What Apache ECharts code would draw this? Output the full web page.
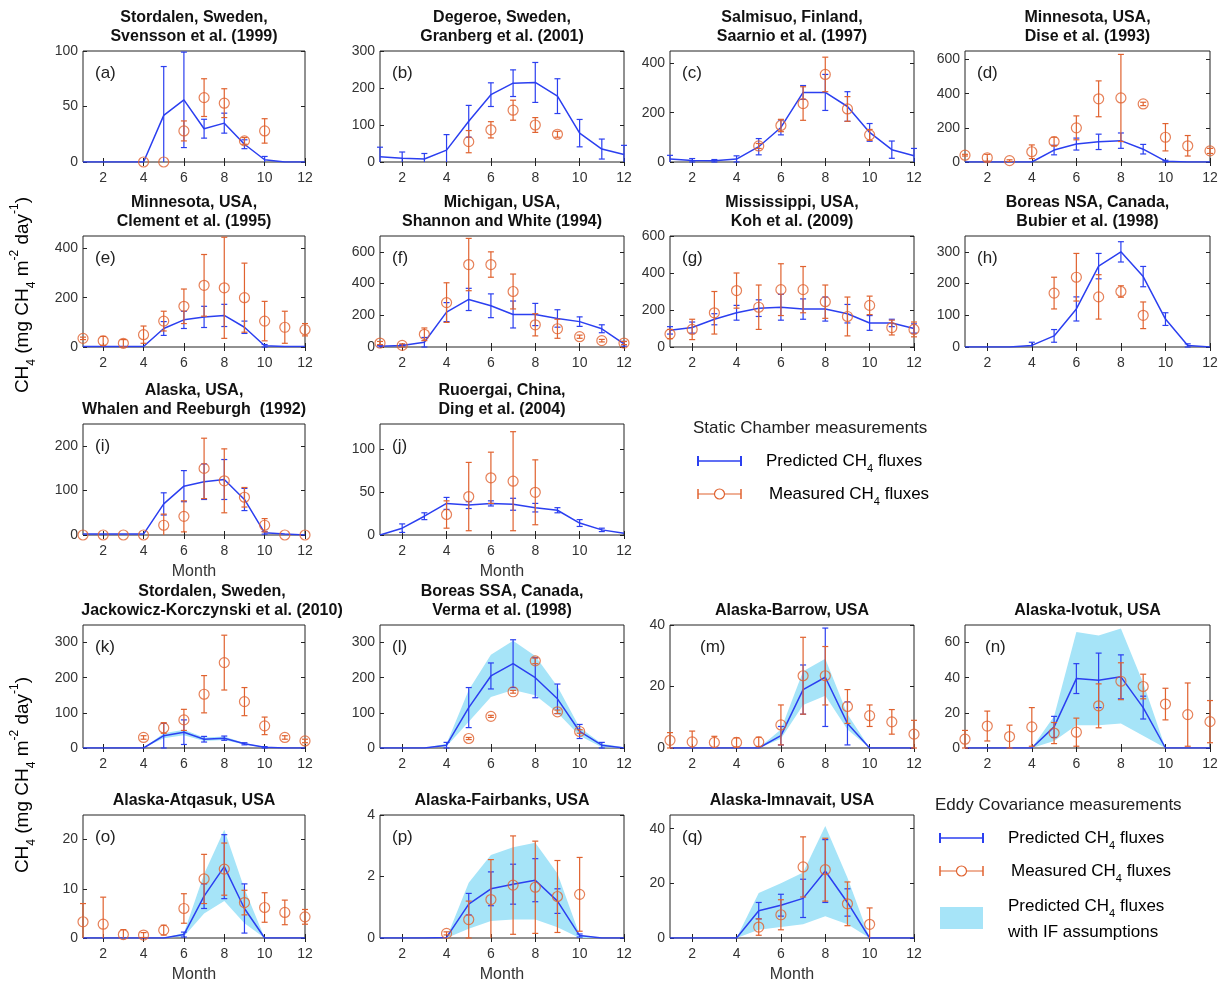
<!DOCTYPE html>
<html>
<head>
<meta charset="utf-8">
<script src="https://cdn.jsdelivr.net/npm/echarts@6/dist/echarts.min.js"></script>
<style>
  html, body { margin: 0; background: #fff; }
  #main { width: 1222px; height: 984px; }
</style>
</head>
<body>
<div id="main"></div>
<script>
// months and tick labels
var months = [1, 2, 3, 4, 5, 6, 7, 8, 9, 10, 11, 12];
var monthTicks = [2, 4, 6, 8, 10, 12];

// ---- static chamber sites ----
var a_pred = [0, 0, 0, 0, 42, 56, 30, 35, 16, 2, 0, 0];
var a_predErr = [0, 0, 0, 0, 44, 43, 8.5, 9, 4, 3, 0, 0];
var a_meas = [null, null, null, 0, 0, 28, 58, 53, 19, 28, null, null];
var a_measErr = [null, null, null, 0, 0, 9, 17, 13, 3, 11, null, null];

var b_pred = [14, 10, 8, 32, 110, 182, 213, 215, 178, 78, 35, 20];
var b_predErr = [26, 17, 15, 42, 43, 32, 36, 54, 47, 37, 27, 25];
var b_meas = [null, null, null, null, 55, 87, 140, 100, 75, null, null, null];
var b_measErr = [null, null, null, null, 30, 22, 27, 20, 8, null, null, null];

var c_pred = [12, 6, 5, 12, 62, 140, 282, 282, 225, 120, 50, 25];
var c_predErr = [15, 8, 5, 13, 33, 30, 28, 73, 60, 36, 35, 30];
var c_meas = [null, null, null, null, 65, 148, 237, 355, 215, 110, null, null];
var c_measErr = [null, null, null, null, 10, 25, 68, 70, 50, 22, null, null];

var d_pred = [0, 0, 0, 0, 70, 105, 118, 125, 75, 5, 0, 0];
var d_predErr = [0, 0, 0, 0, 28, 35, 45, 45, 28, 5, 0, 0];
var d_meas = [40, 25, 8, 60, 120, 200, 370, 375, 340, 145, 95, 65];
var d_measErr = [5, 20, 5, 40, 25, 70, 105, 255, 10, 80, 60, 15];

var e_pred = [2, 2, 2, 2, 75, 110, 122, 128, 80, 5, 2, 2];
var e_predErr = [0, 0, 0, 0, 28, 35, 43, 45, 25, 5, 0, 0];
var e_meas = [35, 25, 15, 50, 105, 165, 250, 240, 200, 105, 80, 70];
var e_measErr = [5, 18, 15, 35, 40, 70, 125, 205, 140, 80, 65, 25];

var f_pred = [5, 10, 30, 220, 300, 260, 205, 205, 180, 160, 115, 20];
var f_predErr = [5, 5, 30, 60, 70, 75, 85, 70, 55, 30, 25, 15];
var f_meas = [25, 10, 80, 280, 520, 520, 350, 140, 115, 65, 40, 25];
var f_measErr = [10, 10, 40, 125, 165, 80, 110, 70, 60, 10, 8, 10];

var g_pred = [90, 105, 150, 185, 210, 215, 205, 205, 180, 130, 130, 100];
var g_predErr = [20, 30, 30, 40, 45, 70, 55, 65, 50, 40, 20, 25];
var g_meas = [70, 95, 185, 305, 215, 310, 310, 245, 165, 225, 105, 95];
var g_measErr = [25, 55, 115, 95, 120, 140, 125, 90, 105, 50, 40, 40];

var h_pred = [0, 0, 0, 5, 35, 120, 255, 300, 222, 88, 5, 0];
var h_predErr = [0, 0, 0, 10, 20, 38, 40, 32, 32, 20, 5, 0];
var h_meas = [null, null, null, null, 170, 220, 158, 175, 100, null, null, null];
var h_measErr = [null, null, null, null, 50, 75, 70, 18, 42, null, null, null];

var i_pred = [2, 2, 2, 2, 70, 110, 120, 125, 80, 5, 2, 0];
var i_predErr = [0, 0, 0, 0, 25, 35, 40, 45, 25, 3, 0, 0];
var i_meas = [0, 0, 0, 0, 22, 42, 150, 122, 85, 22, 0, 0];
var i_measErr = [0, 0, 0, 0, 25, 35, 68, 72, 22, 15, 0, 0];

var j_pred = [0, 8, 22, 37, 35, 37, 36, 32, 29, 14, 6, 2];
var j_predErr = [0, 5, 4, 7, 4, 3, 7, 5, 3, 4, 2, 0];
var j_meas = [null, null, null, 24, 45, 67, 63, 50, null, null, null, null];
var j_measErr = [null, null, null, 16, 40, 30, 58, 38, null, null, null, null];

// ---- eddy covariance sites (with IF band) ----
var k_pred = [0, 0, 0, 0, 35, 45, 25, 28, 12, 2, 0, 0];
var k_predErr = [0, 0, 0, 0, 35, 35, 8, 6, 3, 2, 0, 0];
var k_lo = [0, 0, 0, 0, 28, 36, 20, 23, 10, 1, 0, 0];
var k_hi = [0, 0, 0, 0, 42, 52, 30, 33, 14, 3, 0, 0];
var k_meas = [null, null, null, 30, 57, 80, 153, 243, 132, 63, 30, 20];
var k_measErr = [null, null, null, 5, 15, 30, 53, 78, 40, 25, 5, 5];

var l_pred = [0, 0, 0, 8, 115, 205, 240, 200, 140, 47, 8, 0];
var l_predErr = [0, 0, 0, 8, 57, 37, 68, 57, 42, 20, 8, 0];
var l_lo = [0, 0, 0, 5, 75, 145, 165, 150, 100, 35, 2, 0];
var l_hi = [0, 0, 0, 12, 165, 265, 305, 262, 175, 58, 12, 2];
var l_meas = [null, null, null, null, 27, 90, 160, 248, 103, 47, null, null];
var l_measErr = [null, null, null, null, 3, 3, 4, 8, 5, 5, null, null];

var m_pred = [0, 0, 0, 0, 0, 4, 19, 23, 8, 0, 0, 0];
var m_predErr = [0, 0, 0, 0, 0, 3, 8, 16, 7, 0, 0, 0];
var m_lo = [0, 0, 0, 0, 0, 3, 14, 17, 6, 0, 0, 0];
var m_hi = [0, 0, 0, 0, 0, 6, 25, 29, 11, 0, 0, 0];
var m_meas = [2.5, 2, 1.8, 1.8, 2, 7.5, 23.5, 23.5, 13.5, 10.5, 8.5, 4.5];
var m_measErr = [2.5, 3.5, 2, 1.5, 1.5, 6.5, 12.5, 9.5, 5.5, 3.5, 4, 4.5];

var n_pred = [0, 0, 0, 0, 12, 39.5, 38.5, 40.5, 23, 0, 0, 0];
var n_predErr = [0, 0, 0, 0, 6, 8.5, 15.5, 12.5, 6.5, 0, 0, 0];
var n_lo = [0, 0, 0, 0, 4, 13, 13, 14, 7, 0, 0, 0];
var n_hi = [0, 0, 0, 0, 18, 66, 64, 68, 37, 0, 0, 0];
var n_meas = [5, 12.5, 6.5, 12, 8.5, 9, 24, 38, 35, 25, 19, 15];
var n_measErr = [5, 8.5, 6.5, 11, 6, 8, 12.5, 10.5, 7, 9, 18, 12];

var o_pred = [0, 0, 0, 0, 0, 0.7, 8.5, 14.5, 6, 0, 0, 0];
var o_predErr = [0, 0, 0, 0, 0, 0.5, 2.5, 6.5, 5, 0, 0, 0];
var o_lo = [0, 0, 0, 0, 0, 0.3, 5, 7.5, 3, 0, 0, 0];
var o_hi = [0, 0, 0, 0, 0, 1, 13, 22, 10, 0, 0, 0];
var o_meas = [3.3, 2.8, 0.7, 0.6, 1.6, 6, 12, 14, 7.2, 6.2, 5.2, 4.3];
var o_measErr = [3.7, 5.5, 1, 0.5, 1, 3, 5, 5.3, 2.5, 3, 2.5, 1.5];

var p_pred = [0, 0, 0, 0.02, 1.1, 1.6, 1.75, 1.88, 1.2, 0.08, 0, 0];
var p_predErr = [0, 0, 0, 0, 0.35, 0.55, 0.65, 0.7, 0.4, 0.05, 0, 0];
var p_lo = [0, 0, 0, 0, 0.3, 0.55, 0.6, 0.6, 0.35, 0, 0, 0];
var p_hi = [0, 0, 0, 0, 1.8, 2.7, 2.95, 3.1, 2.1, 0.1, 0, 0];
var p_meas = [null, null, null, 0.15, 0.6, 1.25, 1.72, 1.65, 1.35, 1.42, null, null];
var p_measErr = [null, null, null, 0.05, 0.6, 1.3, 1.6, 1.5, 1.17, 1.2, null, null];

var q_pred = [0, 0, 0, 0, 10, 12, 14.5, 24.5, 13, 0, 0, 0];
var q_predErr = [0, 0, 0, 0, 3, 4, 7, 11.5, 5, 0, 0, 0];
var q_lo = [0, 0, 0, 0, 3, 4, 5, 8, 5, 0, 0, 0];
var q_hi = [0, 0, 0, 0, 16.5, 20, 24, 41, 22, 0, 0, 0];
var q_meas = [null, null, null, null, 4, 8.5, 26, 25, 12.5, 5, null, null];
var q_measErr = [null, null, null, null, 3, 5.5, 11, 11.5, 8, 6, null, null];

var BLUE = '#2b3ff0';
var ORANGE = '#e0622f';
var BAND = '#a6e4f8';
var FONT = '"Liberation Sans", Arial, Helvetica, sans-serif';

// plot boxes
var colLeft = [83, 380, 670, 965];
var colWidth = [222, 244, 244, 245];
var rowTop = [51, 236, 424, 625, 815];
var rowH = [111, 111, 111, 123, 125];

var panels = [
  {id: 'a', r: 0, c: 0, title: 'Stordalen, Sweden,\nSvensson et al. (1999)', ymax: 100, yTicks: [0, 50, 100], pred: a_pred, predErr: a_predErr, meas: a_meas, measErr: a_measErr},
  {id: 'b', r: 0, c: 1, title: 'Degeroe, Sweden,\nGranberg et al. (2001)', ymax: 300, yTicks: [0, 100, 200, 300], pred: b_pred, predErr: b_predErr, meas: b_meas, measErr: b_measErr},
  {id: 'c', r: 0, c: 2, title: 'Salmisuo, Finland,\nSaarnio et al. (1997)', ymax: 450, yTicks: [0, 200, 400], pred: c_pred, predErr: c_predErr, meas: c_meas, measErr: c_measErr},
  {id: 'd', r: 0, c: 3, title: 'Minnesota, USA,\nDise et al. (1993)', ymax: 650, yTicks: [0, 200, 400, 600], pred: d_pred, predErr: d_predErr, meas: d_meas, measErr: d_measErr},
  {id: 'e', r: 1, c: 0, title: 'Minnesota, USA,\nClement et al. (1995)', ymax: 450, yTicks: [0, 200, 400], pred: e_pred, predErr: e_predErr, meas: e_meas, measErr: e_measErr},
  {id: 'f', r: 1, c: 1, title: 'Michigan, USA,\nShannon and White (1994)', ymax: 700, yTicks: [0, 200, 400, 600], pred: f_pred, predErr: f_predErr, meas: f_meas, measErr: f_measErr},
  {id: 'g', r: 1, c: 2, title: 'Mississippi, USA,\nKoh et al. (2009)', ymax: 600, yTicks: [0, 200, 400, 600], pred: g_pred, predErr: g_predErr, meas: g_meas, measErr: g_measErr},
  {id: 'h', r: 1, c: 3, title: 'Boreas NSA, Canada,\nBubier et al. (1998)', ymax: 350, yTicks: [0, 100, 200, 300], pred: h_pred, predErr: h_predErr, meas: h_meas, measErr: h_measErr},
  {id: 'i', r: 2, c: 0, title: 'Alaska, USA,\nWhalen and Reeburgh  (1992)', ymax: 250, yTicks: [0, 100, 200], pred: i_pred, predErr: i_predErr, meas: i_meas, measErr: i_measErr, month: true},
  {id: 'j', r: 2, c: 1, title: 'Ruoergai, China,\nDing et al. (2004)', ymax: 130, yTicks: [0, 50, 100], pred: j_pred, predErr: j_predErr, meas: j_meas, measErr: j_measErr, month: true},
  {id: 'k', r: 3, c: 0, title: 'Stordalen, Sweden,\nJackowicz-Korczynski et al. (2010)', ymax: 350, yTicks: [0, 100, 200, 300], pred: k_pred, predErr: k_predErr, lo: k_lo, hi: k_hi, meas: k_meas, measErr: k_measErr, tx: 18},
  {id: 'l', r: 3, c: 1, title: 'Boreas SSA, Canada,\nVerma et al. (1998)', ymax: 350, yTicks: [0, 100, 200, 300], pred: l_pred, predErr: l_predErr, lo: l_lo, hi: l_hi, meas: l_meas, measErr: l_measErr},
  {id: 'm', r: 3, c: 2, title: 'Alaska-Barrow, USA', ymax: 40, yTicks: [0, 20, 40], pred: m_pred, predErr: m_predErr, lo: m_lo, hi: m_hi, meas: m_meas, measErr: m_measErr, lx: 30},
  {id: 'n', r: 3, c: 3, title: 'Alaska-Ivotuk, USA', ymax: 70, yTicks: [0, 20, 40, 60], pred: n_pred, predErr: n_predErr, lo: n_lo, hi: n_hi, meas: n_meas, measErr: n_measErr, lx: 20},
  {id: 'o', r: 4, c: 0, title: 'Alaska-Atqasuk, USA', ymax: 25, yTicks: [0, 10, 20], pred: o_pred, predErr: o_predErr, lo: o_lo, hi: o_hi, meas: o_meas, measErr: o_measErr, month: true},
  {id: 'p', r: 4, c: 1, title: 'Alaska-Fairbanks, USA', ymax: 4, yTicks: [0, 2, 4], pred: p_pred, predErr: p_predErr, lo: p_lo, hi: p_hi, meas: p_meas, measErr: p_measErr, month: true},
  {id: 'q', r: 4, c: 2, title: 'Alaska-Imnavait, USA', ymax: 45, yTicks: [0, 20, 40], pred: q_pred, predErr: q_predErr, lo: q_lo, hi: q_hi, meas: q_meas, measErr: q_measErr, month: true}
];

// vertical error bars drawn in pixel space, clipped to the plot box
function errBars(color, capHalf) {
  return function (params, api) {
    var x = api.value(0), y = api.value(1), e = api.value(2);
    var cs = params.coordSys;
    var p1 = api.coord([x, y + e]);
    var p2 = api.coord([x, y - e]);
    var yTop = Math.max(p1[1], cs.y);
    var yBot = Math.min(p2[1], cs.y + cs.height);
    var ch = [{type: 'line', shape: {x1: p1[0], y1: yTop, x2: p1[0], y2: yBot}, style: {stroke: color, lineWidth: 1.2}}];
    if (p1[1] >= cs.y - 0.5) {
      ch.push({type: 'line', shape: {x1: p1[0] - capHalf, y1: yTop, x2: p1[0] + capHalf, y2: yTop}, style: {stroke: color, lineWidth: 1.2}});
    }
    if (p2[1] <= cs.y + cs.height + 0.5) {
      ch.push({type: 'line', shape: {x1: p2[0] - capHalf, y1: yBot, x2: p2[0] + capHalf, y2: yBot}, style: {stroke: color, lineWidth: 1.2}});
    }
    return {type: 'group', children: ch};
  };
}

// shaded range between lo and hi, drawn once as a polygon
function bandPoly(params, api) {
  if (params.dataIndex !== 0) return null;
  var cnt = params.dataInsideLength;
  var upper = [], lower = [];
  for (var k = 0; k < cnt; k++) {
    var x = api.value(0, k);
    upper.push(api.coord([x, api.value(2, k)]));
    lower.unshift(api.coord([x, api.value(1, k)]));
  }
  return {type: 'polygon', shape: {points: upper.concat(lower)}, style: {fill: BAND}};
}

function pairs(vals) {
  var out = [];
  months.forEach(function (m, k) { if (vals[k] != null) out.push([m, vals[k]]); });
  return out;
}
function triples(vals, errs) {
  var out = [];
  months.forEach(function (m, k) { if (vals[k] != null && errs[k]) out.push([m, vals[k], errs[k]]); });
  return out;
}

var grids = [], xAxes = [], yAxes = [], series = [], graphics = [];
var n = panels.length;
var tickStyle = {show: true, inside: true, length: 4, lineStyle: {color: '#222', width: 1}};

panels.forEach(function (p, idx) {
  var left = colLeft[p.c], top = rowTop[p.r], w = colWidth[p.c], h = rowH[p.r];
  grids.push({left: left, top: top, width: w, height: h, show: true, borderColor: '#222', borderWidth: 1, backgroundColor: 'transparent'});
  xAxes[idx] = {
    gridIndex: idx, type: 'value', min: 1, max: 12, position: 'bottom',
    axisLine: {show: false}, splitLine: {show: false},
    axisTick: Object.assign({customValues: monthTicks}, tickStyle),
    axisLabel: {customValues: monthTicks, color: '#333', fontSize: 14, fontFamily: FONT, margin: 9},
    name: p.month ? 'Month' : '', nameLocation: 'middle', nameGap: 29,
    nameTextStyle: {color: '#333', fontSize: 16, fontFamily: FONT}
  };
  xAxes[n + idx] = {
    gridIndex: idx, type: 'value', min: 1, max: 12, position: 'top',
    axisLine: {show: false}, splitLine: {show: false}, axisLabel: {show: false},
    axisTick: Object.assign({customValues: monthTicks}, tickStyle)
  };
  yAxes[idx] = {
    gridIndex: idx, type: 'value', min: 0, max: p.ymax, position: 'left',
    axisLine: {show: false}, splitLine: {show: false},
    axisTick: Object.assign({customValues: p.yTicks}, tickStyle),
    axisLabel: {customValues: p.yTicks, color: '#333', fontSize: 14, fontFamily: FONT, margin: 5}
  };
  yAxes[n + idx] = {
    gridIndex: idx, type: 'value', min: 0, max: p.ymax, position: 'right',
    axisLine: {show: false}, splitLine: {show: false}, axisLabel: {show: false},
    axisTick: Object.assign({customValues: p.yTicks}, tickStyle)
  };

  if (p.lo) {
    series.push({
      type: 'custom', xAxisIndex: idx, yAxisIndex: idx, silent: true,
      data: months.map(function (m, k) { return [m, p.lo[k], p.hi[k]]; }),
      renderItem: bandPoly, encode: {x: 0, y: [1, 2]}, z: 1
    });
  }
  series.push({
    type: 'line', xAxisIndex: idx, yAxisIndex: idx, data: pairs(p.pred),
    showSymbol: false, lineStyle: {color: BLUE, width: 1.5}, z: 3
  });
  series.push({
    type: 'custom', xAxisIndex: idx, yAxisIndex: idx, data: triples(p.pred, p.predErr),
    renderItem: errBars(BLUE, 3), encode: {x: 0, y: 1}, z: 4
  });
  series.push({
    type: 'custom', xAxisIndex: idx, yAxisIndex: idx, data: triples(p.meas, p.measErr),
    renderItem: errBars(ORANGE, 3), encode: {x: 0, y: 1}, z: 5
  });
  series.push({
    type: 'scatter', xAxisIndex: idx, yAxisIndex: idx, data: pairs(p.meas),
    symbol: 'circle', symbolSize: 10, clip: false,
    itemStyle: {color: 'rgba(0,0,0,0)', borderColor: ORANGE, borderWidth: 1.2}, z: 6
  });

  // title and panel letter
  graphics.push({
    type: 'text', x: left + w / 2 + (p.tx || 0), y: top - 5, silent: true,
    style: {text: p.title, align: 'center', verticalAlign: 'bottom', fill: '#111',
      font: 'bold 16px ' + FONT, lineHeight: 19}
  });
  graphics.push({
    type: 'text', x: left + (p.lx || 12), y: top + 22, silent: true,
    style: {text: '(' + p.id + ')', align: 'left', verticalAlign: 'middle', fill: '#222',
      font: '17px ' + FONT}
  });
});

// rich text styles for subscripts / superscripts
var rich = {
  n: {fontSize: 17, fontFamily: FONT, color: '#222', lineHeight: 26},
  s: {fontSize: 11, fontFamily: FONT, color: '#222', verticalAlign: 'bottom', lineHeight: 13},
  u: {fontSize: 11, fontFamily: FONT, color: '#222', verticalAlign: 'top', lineHeight: 13}
};
var yRich = {
  n: {fontSize: 19, fontFamily: FONT, color: '#222', lineHeight: 29},
  s: {fontSize: 12, fontFamily: FONT, color: '#222', verticalAlign: 'bottom', lineHeight: 14},
  u: {fontSize: 12, fontFamily: FONT, color: '#222', verticalAlign: 'top', lineHeight: 14}
};
var yLabel = '{n|CH}{s|4}{n| (mg CH}{s|4}{n| m}{u|-2}{n| day}{u|-1}{n|)}';
[295, 775].forEach(function (cy) {
  graphics.push({
    type: 'text', x: 23, y: cy, rotation: Math.PI / 2, silent: true,
    style: {text: yLabel, rich: yRich, align: 'center', verticalAlign: 'middle'}
  });
});

// legends drawn by hand
function legendBlock(x0, y0, withBand) {
  var items = [];
  var lx1 = x0 + 5, lx2 = x0 + 48, tx = x0 + 73;
  items.push({type: 'text', x: x0, y: y0, silent: true,
    style: {text: withBand ? 'Eddy Covariance measurements' : 'Static Chamber measurements',
      font: '17px ' + FONT, fill: '#222', verticalAlign: 'middle'}});
  var yb = y0 + 33, yo = y0 + 66;
  items.push({type: 'line', shape: {x1: lx1, y1: yb, x2: lx2, y2: yb}, style: {stroke: BLUE, lineWidth: 1.5}});
  items.push({type: 'line', shape: {x1: lx1, y1: yb - 5, x2: lx1, y2: yb + 5}, style: {stroke: BLUE, lineWidth: 2}});
  items.push({type: 'line', shape: {x1: lx2, y1: yb - 5, x2: lx2, y2: yb + 5}, style: {stroke: BLUE, lineWidth: 2}});
  items.push({type: 'text', x: tx, y: yb, silent: true,
    style: {text: '{n|Predicted CH}{s|4}{n| fluxes}', rich: rich, verticalAlign: 'middle'}});
  items.push({type: 'line', shape: {x1: lx1, y1: yo, x2: lx2, y2: yo}, style: {stroke: ORANGE, lineWidth: 1.2}});
  items.push({type: 'line', shape: {x1: lx1, y1: yo - 5, x2: lx1, y2: yo + 5}, style: {stroke: ORANGE, lineWidth: 1.5}});
  items.push({type: 'line', shape: {x1: lx2, y1: yo - 5, x2: lx2, y2: yo + 5}, style: {stroke: ORANGE, lineWidth: 1.5}});
  items.push({type: 'circle', shape: {cx: (lx1 + lx2) / 2, cy: yo, r: 5}, style: {fill: '#fff', stroke: ORANGE, lineWidth: 1.2}});
  items.push({type: 'text', x: tx + 3, y: yo, silent: true,
    style: {text: '{n|Measured CH}{s|4}{n| fluxes}', rich: rich, verticalAlign: 'middle'}});
  if (withBand) {
    var yr = y0 + 114;
    items.push({type: 'rect', shape: {x: lx1, y: yr - 12, width: lx2 - lx1, height: 22}, style: {fill: BAND}});
    items.push({type: 'text', x: tx, y: yr, silent: true,
      style: {text: '{n|Predicted CH}{s|4}{n| fluxes}\n{n|with IF assumptions}', rich: rich, verticalAlign: 'middle'}});
  }
  return items;
}
graphics = graphics.concat(legendBlock(693, 428, false), legendBlock(935, 805, true));

var myChart = echarts.init(document.getElementById('main'));
var option = {
  backgroundColor: '#fff',
  animation: false,
  grid: grids,
  xAxis: xAxes,
  yAxis: yAxes,
  series: series,
  graphic: {elements: graphics}
};
myChart.setOption(option);
</script>
</body>
</html>
